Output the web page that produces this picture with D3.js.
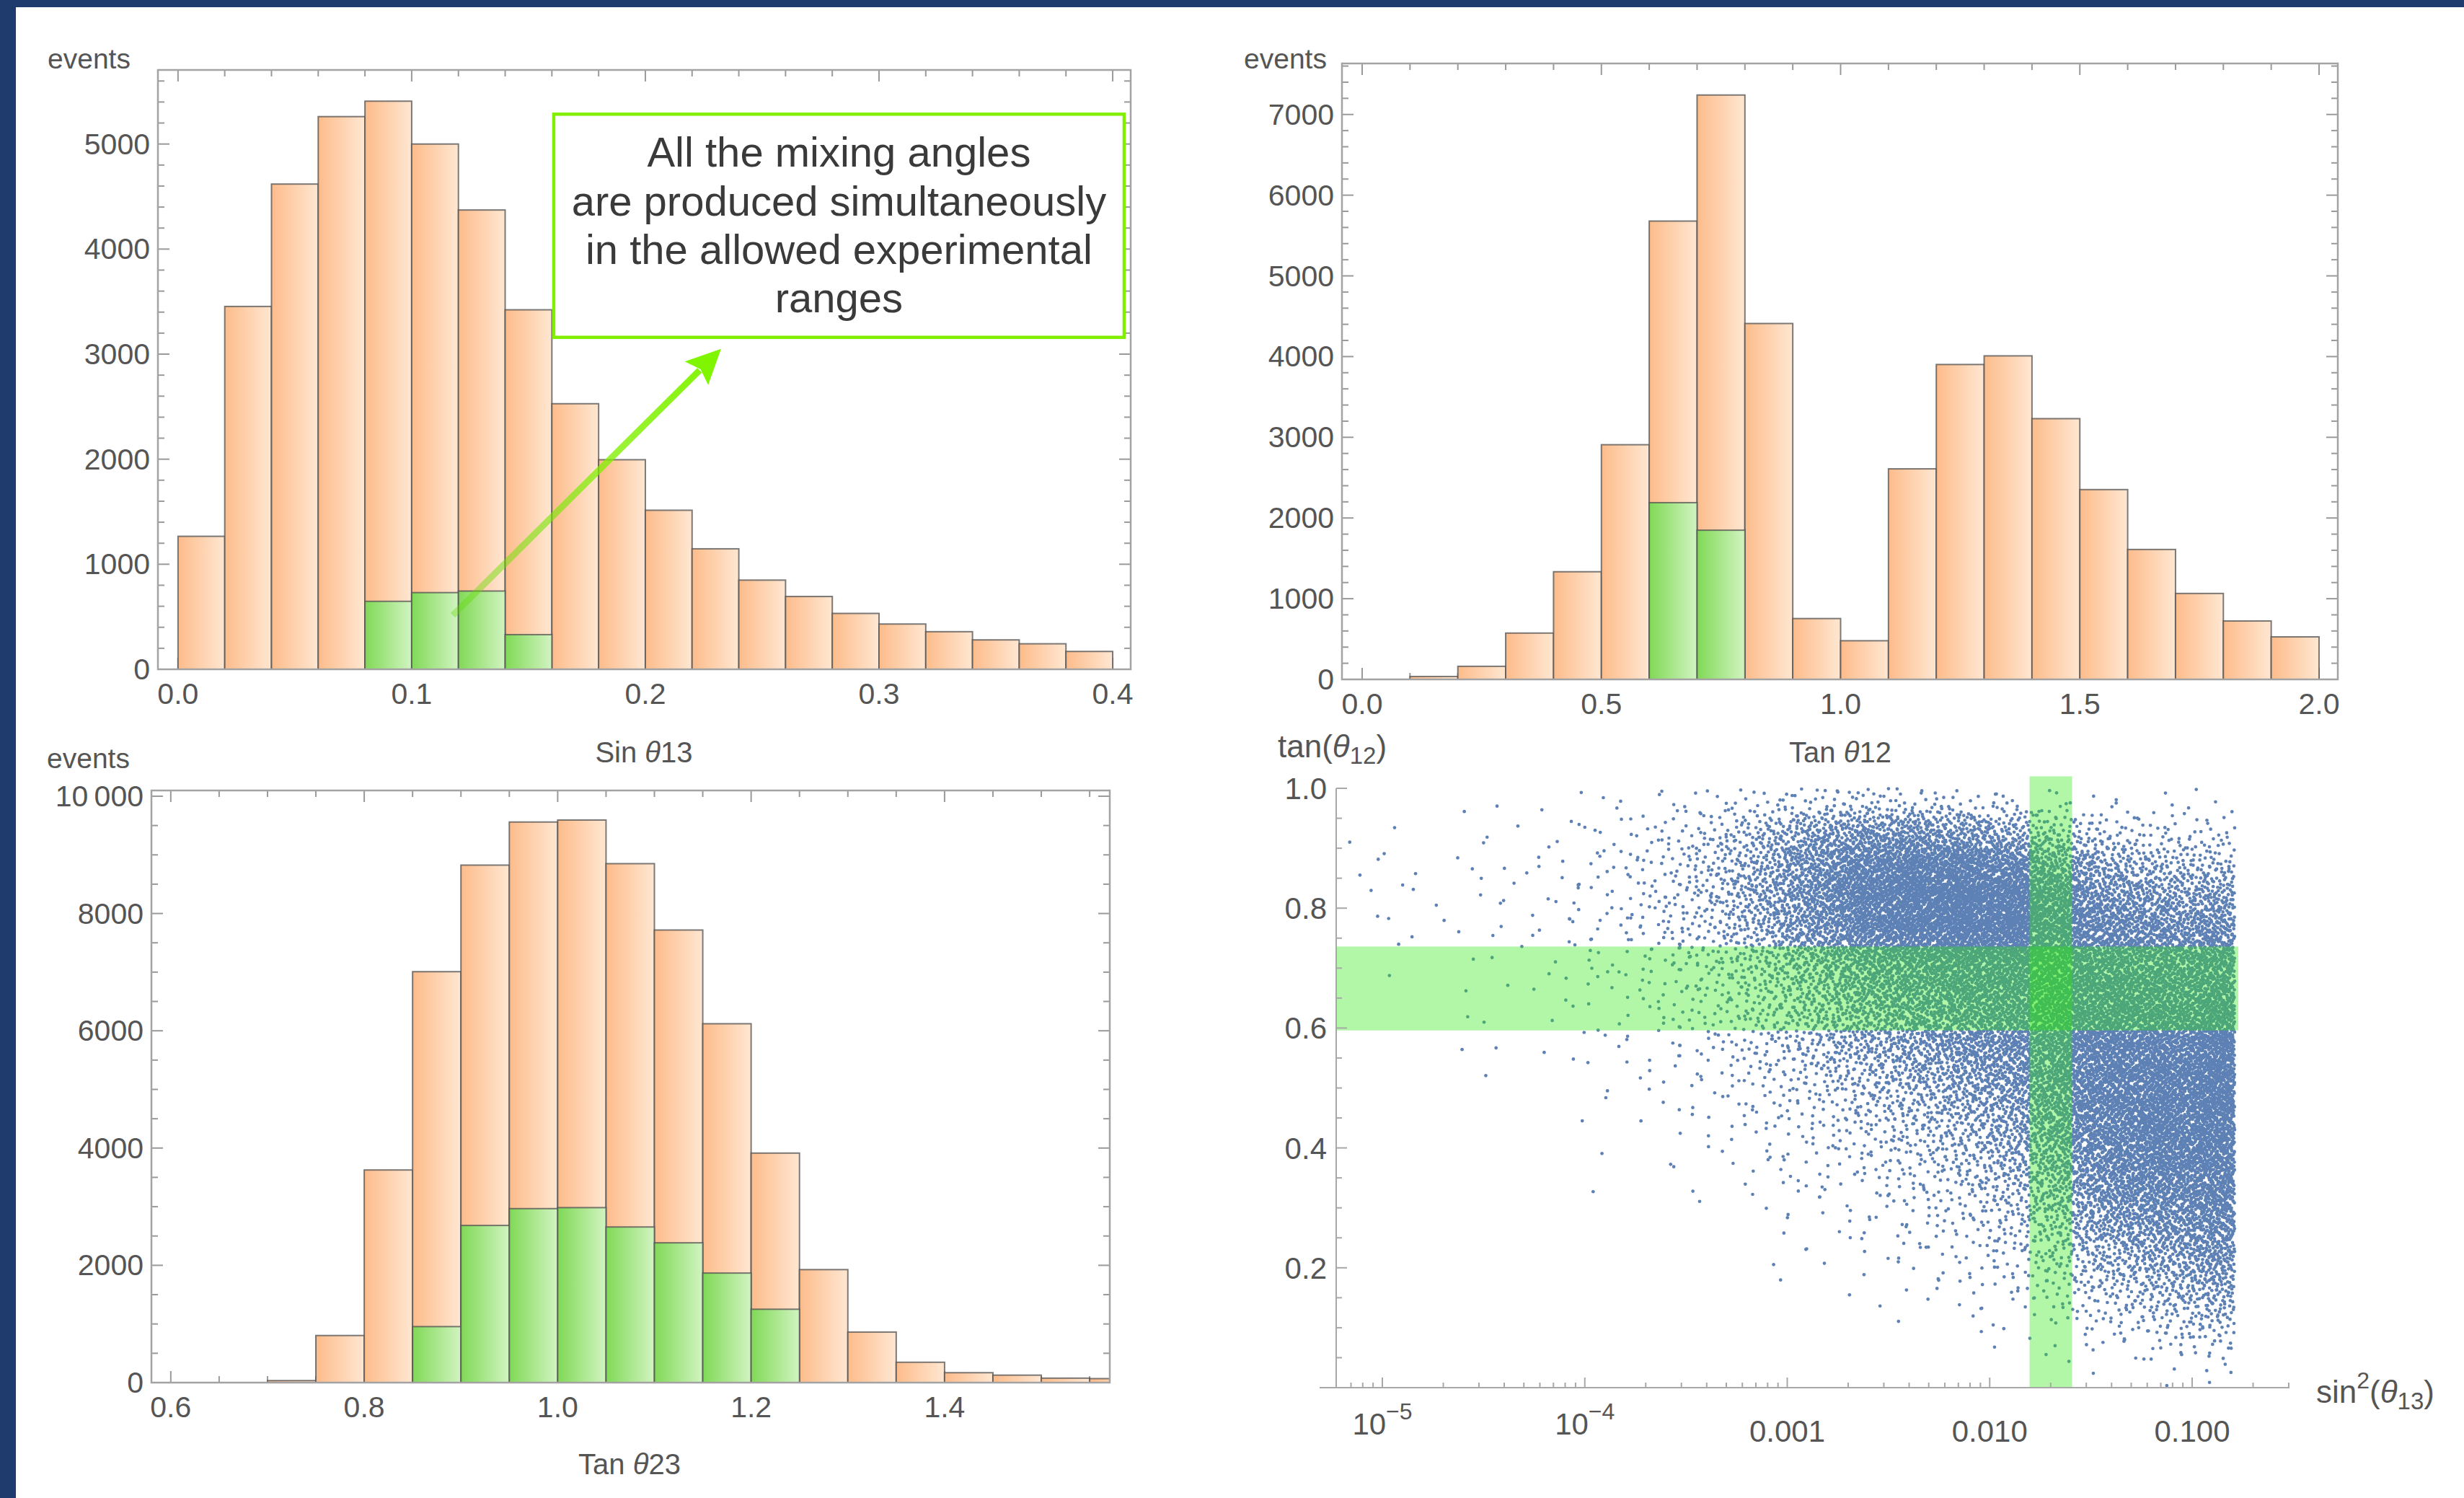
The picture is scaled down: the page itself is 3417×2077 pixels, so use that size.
<!DOCTYPE html>
<html>
<head>
	<title>Mixing angle histograms</title>
	<script src="https://d3js.org/d3.v7.min.js"></script>
<style>
	body{
		margin:0;
		background-color:#1f3a6c;
	}
	svg{
		display:block;
	}
	text{
		font-family:"Liberation Sans", Arial, Helvetica, sans-serif;
		fill:#555;
	}
</style>
</head>
<body>
<svg id="chart" width="3417" height="2077"></svg>
<script>

//DATA

// Sin theta13 histogram, bins of 0.02 from 0.0
var sin13Start = 0, sin13Width = 0.02;
var sin13Counts = [1266, 3454, 4619, 5261, 5408, 5000, 4372, 3422, 2528, 1995, 1514, 1147, 849, 693, 532, 431, 358, 280, 243, 170];
var sin13Green  = [0, 0, 0, 0, 647, 730, 745, 330, 0, 0, 0, 0, 0, 0, 0, 0, 0, 0, 0, 0];
var sin13XTicks = [0, 0.1, 0.2, 0.3, 0.4];
var sin13YTicks = [0, 1000, 2000, 3000, 4000, 5000];

// Tan theta12 histogram, bins of 0.1 from 0.0
var tan12Start = 0, tan12Width = 0.1;
var tan12Counts = [0, 36, 162, 574, 1334, 2908, 5679, 7241, 4410, 754, 479, 2609, 3902, 4009, 3231, 2352, 1610, 1065, 724, 527];
var tan12Green  = [0, 0, 0, 0, 0, 0, 2190, 1849, 0, 0, 0, 0, 0, 0, 0, 0, 0, 0, 0, 0];
var tan12XTicks = [0, 0.5, 1.0, 1.5, 2.0];
var tan12YTicks = [0, 1000, 2000, 3000, 4000, 5000, 6000, 7000];

// Tan theta23 histogram, bins of 0.05 from 0.70
var tan23Start = 0.70, tan23Width = 0.05;
var tan23Counts = [34, 803, 3626, 7008, 8825, 9560, 9594, 8850, 7718, 6120, 3914, 1927, 862, 347, 169, 127, 76, 68];
var tan23Green  = [0, 0, 0, 955, 2680, 2967, 2984, 2654, 2384, 1868, 1251, 0, 0, 0, 0, 0, 0, 0];
var tan23XTicks = [0.6, 0.8, 1.0, 1.2, 1.4];
var tan23YTicks = [0, 2000, 4000, 6000, 8000, 10000];

// scatter: point counts read per cell (log10 sin^2 theta13 columns, tan theta12 rows of 0.05, top row first)
var scatterLogEdges = [-5.2, -5.0, -4.75, -4.5, -4.25, -4.0, -3.75, -3.5, -3.25, -3.0, -2.75, -2.5, -2.25, -2.0, -1.75, -1.5, -1.25, -1.0, -0.79];
var scatterRowTops = [1.0, 0.95, 0.9, 0.85, 0.8, 0.75, 0.7, 0.65, 0.6, 0.55, 0.5, 0.45, 0.4, 0.35, 0.3, 0.25, 0.2, 0.15, 0.1, 0.05];
var scatterDensity = [
	[0,0,1,1,2,3,5,8,14,22,25,20,14,9,6,4,3,2],
	[0,1,1,2,3,6,14,30,65,120,160,170,140,100,55,30,22,14],
	[2,2,2,3,5,8,17,38,85,170,260,310,310,260,150,85,60,45],
	[2,2,2,3,5,9,18,40,95,190,320,390,400,350,240,160,125,95],
	[1,2,2,3,5,8,17,35,80,170,280,360,390,360,280,210,180,150],
	[0,1,1,2,4,7,14,28,62,125,200,260,300,310,280,245,225,195],
	[0,1,1,2,3,6,12,22,48,95,155,205,245,265,270,260,250,210],
	[0,0,1,1,2,4,9,17,38,72,120,160,200,235,265,280,275,235],
	[0,0,1,1,2,3,7,12,28,52,88,125,165,210,260,295,300,255],
	[0,0,0,1,1,2,5,8,18,34,58,88,125,170,245,305,320,265],
	[0,0,0,0,1,1,3,6,11,22,38,60,92,140,225,300,320,265],
	[0,0,0,0,0,1,2,4,7,14,24,40,66,110,195,275,305,260],
	[0,0,0,0,0,1,1,2,5,9,16,27,46,80,155,240,285,245],
	[0,0,0,0,0,0,1,1,3,5,10,17,29,55,118,195,245,220],
	[0,0,0,0,0,0,0,1,1,3,6,11,18,36,80,140,190,185],
	[0,0,0,0,0,0,0,0,1,2,4,7,11,21,50,88,130,140],
	[0,0,0,0,0,0,0,0,0,1,2,4,7,12,28,50,85,95],
	[0,0,0,0,0,0,0,0,0,0,1,1,3,5,12,25,45,55],
	[0,0,0,0,0,0,0,0,0,0,0,0,1,1,4,8,16,20],
	[0,0,0,0,0,0,0,0,0,0,0,0,0,0,0,1,2,2]
];
var band12 = [0.596, 0.736];        // allowed tan theta12
var band13 = [0.01574, 0.02553];    // allowed sin^2 theta13
var scatterYTicks = [0.2, 0.4, 0.6, 0.8, 1.0];
var scatterXTicks = [1e-5, 1e-4, 1e-3, 1e-2, 1e-1];
var scatterXLabels = [["10", "\u22125"], ["10", "\u22124"], ["0.001"], ["0.010"], ["0.100"]];

// annotation text
var noteLines = ["All the mixing angles", "are produced simultaneously", "in the allowed experimental", "ranges"];

//GENERAL SETUP

var width = 3417, height = 2077;
var svg = d3.select("#chart");
var defs = svg.append("defs");

svg.append("rect").attr("width", width).attr("height", height).attr("fill", "#1f3a6c");
svg.append("rect").attr("x", 22).attr("y", 10).attr("width", width - 22).attr("height", height - 10).attr("fill", "#fff");

function gradient(id, c0, c1) {
	var lg = defs.append("linearGradient").attr("id", id)
		.attr("x1", 0).attr("x2", 1).attr("y1", 0).attr("y2", 0);
	lg.append("stop").attr("offset", "0%").attr("stop-color", c0);
	lg.append("stop").attr("offset", "100%").attr("stop-color", c1);
}
gradient("orangeGrad", "#fdbc8b", "#ffe7d2");
gradient("greenGrad", "#80d956", "#d2f4c2");

var fmt1 = d3.format(".1f");
var fmtInt = function(d) { return d === 10000 ? "10\u2009000" : String(d); };

//HISTOGRAMS

function drawHist(cfg) {
	var x = d3.scaleLinear().domain(cfg.xDomain).range([cfg.left, cfg.right]);
	var y = d3.scaleLinear().domain(cfg.yDomain).range([cfg.bottom, cfg.top]);
	var g = svg.append("g");

	defs.append("clipPath").attr("id", cfg.id + "clip").append("rect")
		.attr("x", cfg.left).attr("y", cfg.top)
		.attr("width", cfg.right - cfg.left).attr("height", cfg.bottom - cfg.top);

	// ticks on all four sides
	var ticks = g.append("g").attr("stroke", "#9a9a9a").attr("stroke-width", 2);
	var xMinor = [];
	for (var v = Math.ceil(cfg.xDomain[0] / cfg.xMinorStep - 1e-6) * cfg.xMinorStep; v <= cfg.xDomain[1]; v += cfg.xMinorStep) xMinor.push(v);
	var yMinor = [];
	for (var w = 0; w <= cfg.yDomain[1]; w += cfg.yMinorStep) yMinor.push(w);

	xMinor.forEach(function(v) {
		var major = cfg.xTicks.some(function(t) { return Math.abs(t - v) < 1e-6; });
		var len = major ? 16 : 9;
		ticks.append("line").attr("x1", x(v)).attr("x2", x(v)).attr("y1", cfg.bottom).attr("y2", cfg.bottom - len);
		ticks.append("line").attr("x1", x(v)).attr("x2", x(v)).attr("y1", cfg.top).attr("y2", cfg.top + len);
	});
	yMinor.forEach(function(v) {
		var major = cfg.yTicks.indexOf(v) >= 0;
		var len = major ? 16 : 9;
		ticks.append("line").attr("y1", y(v)).attr("y2", y(v)).attr("x1", cfg.left).attr("x2", cfg.left + len);
		ticks.append("line").attr("y1", y(v)).attr("y2", y(v)).attr("x1", cfg.right).attr("x2", cfg.right - len);
	});

	var bins = cfg.counts.map(function(c, i) {
		return {x0: cfg.start + i * cfg.width, x1: cfg.start + (i + 1) * cfg.width, all: c, green: cfg.green[i]};
	});

	var bars = g.append("g").attr("clip-path", "url(#" + cfg.id + "clip)");
	bars.selectAll("rect.all")
		.data(bins.filter(function(d) { return d.all > 0; }))
		.enter()
		.append("rect")
		.attr("class", "all")
		.attr("x", function(d) { return x(d.x0); })
		.attr("width", function(d) { return x(d.x1) - x(d.x0); })
		.attr("y", function(d) { return y(d.all); })
		.attr("height", function(d) { return y(0) - y(d.all); })
		.attr("fill", "url(#orangeGrad)")
		.attr("stroke", "#505050")
		.attr("stroke-opacity", 0.75)
		.attr("stroke-width", 2);

	bars.selectAll("rect.green")
		.data(bins.filter(function(d) { return d.green > 0; }))
		.enter()
		.append("rect")
		.attr("class", "green")
		.attr("x", function(d) { return x(d.x0); })
		.attr("width", function(d) { return x(d.x1) - x(d.x0); })
		.attr("y", function(d) { return y(d.green); })
		.attr("height", function(d) { return y(0) - y(d.green); })
		.attr("fill", "url(#greenGrad)")
		.attr("stroke", "#505050")
		.attr("stroke-opacity", 0.75)
		.attr("stroke-width", 2);

	// frame
	g.append("rect")
		.attr("x", cfg.left).attr("y", cfg.top)
		.attr("width", cfg.right - cfg.left).attr("height", cfg.bottom - cfg.top)
		.attr("fill", "none").attr("stroke", "#a3a3a3").attr("stroke-width", 2.5);

	// tick labels
	g.selectAll("text.xl").data(cfg.xTicks).enter().append("text")
		.attr("x", function(d) { return x(d); })
		.attr("y", cfg.bottom + 48)
		.attr("text-anchor", "middle")
		.attr("font-size", 41)
		.text(fmt1);
	g.selectAll("text.yl").data(cfg.yTicks).enter().append("text")
		.attr("x", cfg.left - 11)
		.attr("y", function(d) { return y(d) + 14; })
		.attr("text-anchor", "end")
		.attr("font-size", 41)
		.text(fmtInt);

	g.append("text")
		.attr("x", cfg.eventsX).attr("y", cfg.eventsY)
		.attr("font-size", 39)
		.text("events");

	var t = g.append("text")
		.attr("x", cfg.titleX).attr("y", cfg.titleY)
		.attr("text-anchor", "middle")
		.attr("font-size", 40);
	t.append("tspan").text(cfg.title[0] + " ");
	t.append("tspan").attr("font-style", "italic").text("\u03b8");
	t.append("tspan").text(cfg.title[1]);

	return {x: x, y: y, g: g};
}

var histA = drawHist({
	id: "a", left: 219, right: 1568, top: 97, bottom: 928,
	xDomain: [-0.0086, 0.4077], yDomain: [0, 5705],
	start: sin13Start, width: sin13Width, counts: sin13Counts, green: sin13Green,
	xTicks: sin13XTicks, yTicks: sin13YTicks, xMinorStep: 0.02, yMinorStep: 200,
	eventsX: 66, eventsY: 95, title: ["Sin", "13"], titleX: 893, titleY: 1057
});

var histB = drawHist({
	id: "b", left: 1861, right: 3242, top: 88, bottom: 942,
	xDomain: [-0.0422, 2.0392], yDomain: [0, 7632],
	start: tan12Start, width: tan12Width, counts: tan12Counts, green: tan12Green,
	xTicks: tan12XTicks, yTicks: tan12YTicks, xMinorStep: 0.1, yMinorStep: 200,
	eventsX: 1725, eventsY: 95, title: ["Tan", "12"], titleX: 2552, titleY: 1057
});

var histC = drawHist({
	id: "c", left: 210, right: 1539, top: 1096, bottom: 1917,
	xDomain: [0.58, 1.5708], yDomain: [0, 10098],
	start: tan23Start, width: tan23Width, counts: tan23Counts, green: tan23Green,
	xTicks: tan23XTicks, yTicks: tan23YTicks, xMinorStep: 0.05, yMinorStep: 500,
	eventsX: 65, eventsY: 1065, title: ["Tan", "23"], titleX: 873, titleY: 2044
});

//ANNOTATION (placed in data units of the first histogram)

var ax = histA.x, ay = histA.y;
var box = {x0: 0.1608, x1: 0.4049, y0: 5284, y1: 3160};
histA.g.append("rect")
	.attr("x", ax(box.x0)).attr("y", ay(box.y0))
	.attr("width", ax(box.x1) - ax(box.x0)).attr("height", ay(box.y1) - ay(box.y0))
	.attr("fill", "#fff").attr("stroke", "#80f000").attr("stroke-width", 4.5);

var noteBase = [4785, 4318, 3858, 3398];
histA.g.selectAll("text.note").data(noteLines).enter().append("text")
	.attr("x", ax((box.x0 + box.x1) / 2))
	.attr("y", function(d, i) { return ay(noteBase[i]); })
	.attr("text-anchor", "middle")
	.attr("font-size", 58)
	.style("fill", "#3a3a3a")
	.text(function(d) { return d; });

var tail = [ax(0.1176), ay(514)], tip = [ax(0.2324), ay(3050)];
var dx = tip[0] - tail[0], dy = tip[1] - tail[1], dl = Math.sqrt(dx * dx + dy * dy);
var ux = dx / dl, uy = dy / dl, nx = -uy, ny = ux;
var base = [tip[0] - 48 * ux, tip[1] - 48 * uy];

var ag = defs.append("linearGradient").attr("id", "arrowGrad")
	.attr("gradientUnits", "userSpaceOnUse")
	.attr("x1", tail[0]).attr("y1", tail[1]).attr("x2", tip[0]).attr("y2", tip[1]);
ag.append("stop").attr("offset", "0%").attr("stop-color", "#5fd800").attr("stop-opacity", 0.35);
ag.append("stop").attr("offset", "55%").attr("stop-color", "#80ee00").attr("stop-opacity", 0.75);
ag.append("stop").attr("offset", "100%").attr("stop-color", "#80f500").attr("stop-opacity", 1);

histA.g.append("line")
	.attr("x1", tail[0]).attr("y1", tail[1])
	.attr("x2", base[0] + 6 * ux).attr("y2", base[1] + 6 * uy)
	.attr("stroke", "url(#arrowGrad)").attr("stroke-width", 9);
histA.g.append("polygon")
	.attr("points", [tip, [base[0] + 23 * nx, base[1] + 23 * ny], [base[0] + 8 * ux, base[1] + 8 * uy], [base[0] - 23 * nx, base[1] - 23 * ny]]
		.map(function(p) { return p.join(","); }).join(" "))
	.attr("fill", "#80f500");

//SCATTER

var sx = d3.scaleLog().domain([1e-5, 0.1]).range([1917, 3040]);
var sy = d3.scaleLinear().domain([0, 1]).range([1924, 1093]);
var sg = svg.append("g");

// each cell's count of points is laid out with a Halton sequence, shaped as a tent
// over the cell and its neighbours so that adjacent cells blend without seams
function halton(i, b) {
	var f = 1, r = 0;
	while (i > 0) { f /= b; r += f * (i % b); i = Math.floor(i / b); }
	return r;
}
function spread(u, lo, hi, loEdge, hiEdge) {
	var c = (lo + hi) / 2, w = hi - lo;
	if (u < 0.5) return loEdge ? lo + u * w : c + (Math.sqrt(2 * u) - 1) * w;
	return hiEdge ? c + (u - 0.5) * w : c + (1 - Math.sqrt(2 * (1 - u))) * w;
}
var pts = [];
var nCols = scatterLogEdges.length - 1, nRows = scatterRowTops.length;
scatterDensity.forEach(function(row, r) {
	row.forEach(function(n, c) {
		var s = (r * nCols + c) * 409 + 7;
		for (var k = 0; k < n; k++) {
			var lx = spread(halton(s + k, 2), scatterLogEdges[c], scatterLogEdges[c + 1], c === 0, c === nCols - 1);
			var ty = spread(halton(s + k, 3), scatterRowTops[r] - 0.05, scatterRowTops[r], r === nRows - 1, r === 0);
			pts.push([Math.pow(10, lx), ty]);
		}
	});
});

sg.append("g").selectAll("circle").data(pts).enter().append("circle")
	.attr("cx", function(d) { return sx(d[0]); })
	.attr("cy", function(d) { return sy(d[1]); })
	.attr("r", 2.35)
	.attr("fill", "#5e81b5");

// allowed ranges
sg.append("rect")
	.attr("x", sx(band13[0])).attr("width", sx(band13[1]) - sx(band13[0]))
	.attr("y", sy(1.02)).attr("height", sy(0) - sy(1.02))
	.attr("fill", "rgb(45,230,20)").attr("fill-opacity", 0.37);
sg.append("rect")
	.attr("x", 1853).attr("width", sx(0.169) - 1853)
	.attr("y", sy(band12[1])).attr("height", sy(band12[0]) - sy(band12[1]))
	.attr("fill", "rgb(45,230,20)").attr("fill-opacity", 0.37);

// axes
var axisG = sg.append("g").attr("stroke", "#a8a8a8").attr("stroke-width", 2);
axisG.append("line").attr("x1", 1830).attr("x2", 3175).attr("y1", sy(0)).attr("y2", sy(0));
axisG.append("line").attr("x1", 1853).attr("x2", 1853).attr("y1", sy(0)).attr("y2", sy(1));

var logMinor = d3.scaleLog().domain([sx.invert(1856), sx.invert(3176)]).ticks();
logMinor.forEach(function(v) {
	var major = scatterXTicks.some(function(t) { return Math.abs(t / v - 1) < 1e-6; });
	axisG.append("line").attr("x1", sx(v)).attr("x2", sx(v))
		.attr("y1", sy(0)).attr("y2", sy(0) - (major ? 14 : 7));
});
d3.range(1, 21).forEach(function(i) {
	var v = i * 0.05;
	var major = i % 4 === 0;
	axisG.append("line").attr("x1", 1853).attr("x2", 1853 + (major ? 15 : 8))
		.attr("y1", sy(v)).attr("y2", sy(v));
});

sg.selectAll("text.syl").data(scatterYTicks).enter().append("text")
	.attr("x", 1840)
	.attr("y", function(d) { return sy(d) + 15; })
	.attr("text-anchor", "end")
	.attr("font-size", 42)
	.text(fmt1);

scatterXTicks.forEach(function(v, i) {
	var lab = scatterXLabels[i];
	var t = sg.append("text")
		.attr("x", sx(v))
		.attr("y", lab.length > 1 ? 1989 : 1999)
		.attr("text-anchor", "middle")
		.attr("font-size", 42);
	t.append("tspan").text(lab[0]);
	if (lab.length > 1) t.append("tspan").attr("font-size", 32).attr("dy", -21).text(lab[1]);
});

var ty = sg.append("text").attr("x", 1772).attr("y", 1050).attr("font-size", 44);
ty.append("tspan").text("tan(");
ty.append("tspan").attr("font-style", "italic").text("\u03b8");
ty.append("tspan").attr("font-size", 33).attr("dy", 9).text("12");
ty.append("tspan").attr("dy", -9).text(")");

var tx = sg.append("text").attr("x", 3212).attr("y", 1945).attr("font-size", 44);
tx.append("tspan").text("sin");
tx.append("tspan").attr("font-size", 32).attr("dy", -20).text("2");
tx.append("tspan").attr("dy", 20).text("(");
tx.append("tspan").attr("font-style", "italic").text("\u03b8");
tx.append("tspan").attr("font-size", 33).attr("dy", 9).text("13");
tx.append("tspan").attr("dy", -9).text(")");

</script>
</body>
</html>
